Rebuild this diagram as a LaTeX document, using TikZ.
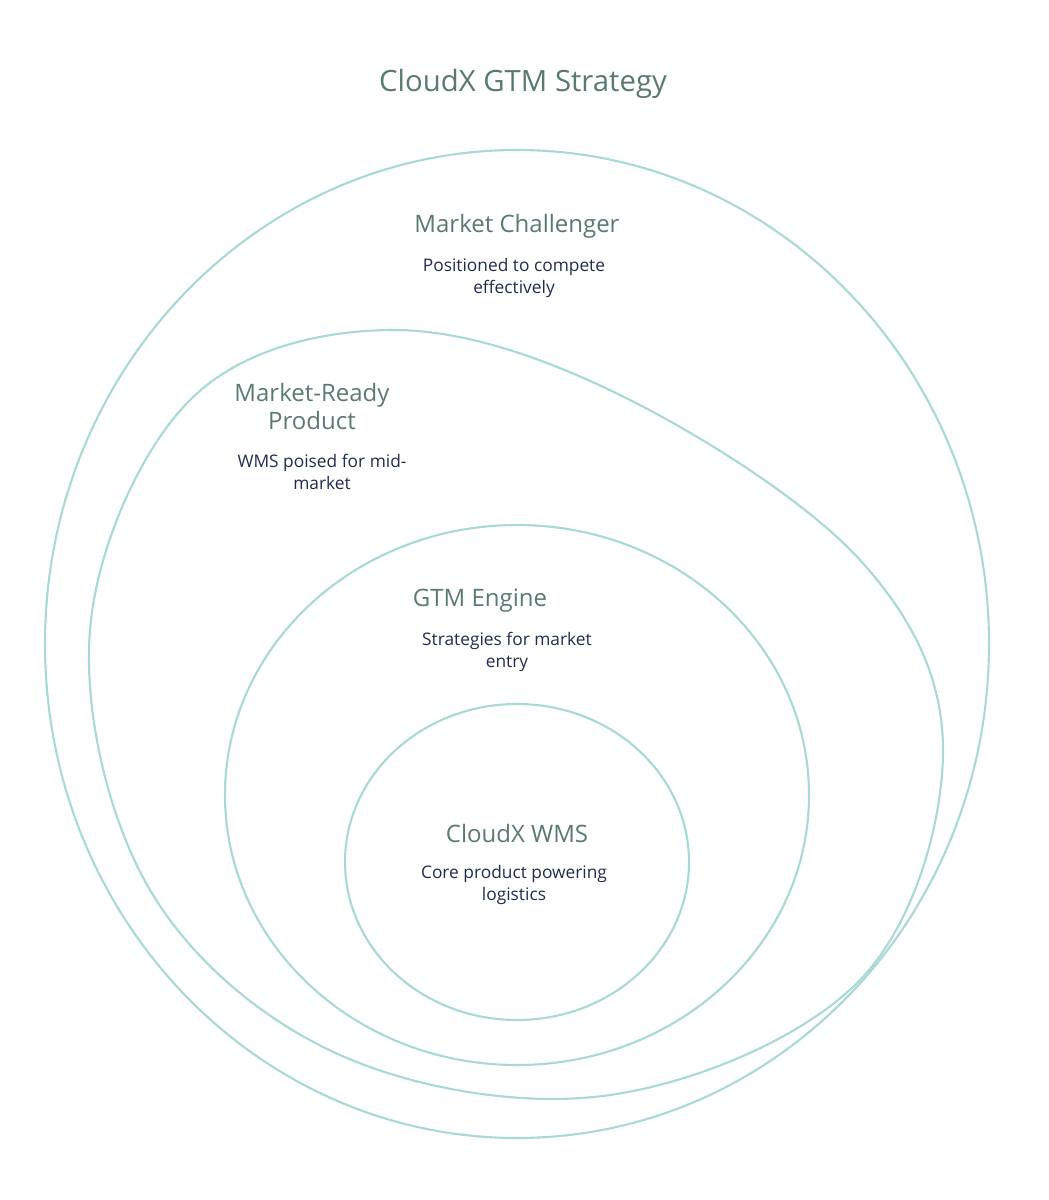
\documentclass[tikz,border=0pt]{standalone}
\usepackage{fontspec}
\setmainfont{Open Sans}
\usetikzlibrary{positioning}
\definecolor{ringline}{HTML}{A9D9D5}
\definecolor{headgreen}{HTML}{5A7A70}
\definecolor{bodynavy}{HTML}{1F2D4D}
\begin{document}
\begin{tikzpicture}[
    x=0.75pt, y=-0.75pt,
    ring/.style={draw=ringline, line width=1.6pt},
    head/.style={font=\fontsize{18}{21}\selectfont, text=headgreen, align=center},
    body/.style={font=\fontsize{13}{17}\selectfont, text=bodynavy, align=center}
]
\useasboundingbox (0,0) rectangle (1049,1200);

% Title
\node[font=\fontsize{22}{26}\selectfont, text=headgreen] (title) at (523,84) {CloudX GTM Strategy};

% Rings
\draw[ring] (517,644) ellipse [x radius=472, y radius=494];
\draw[ring] plot[smooth cycle, tension=0.6] coordinates {(90,630) (190,400) (390,330) (620,395) (860,560) (943,750) (860,980) (610,1095) (340,1055) (150,890)};
\draw[ring] (517,795) ellipse [x radius=292, y radius=270];
\draw[ring] (517,862) ellipse [x radius=172, y radius=158];

% Labels
\node[head] (chal) at (517,226) {Market Challenger};
\node[body] (chaltxt) at (514,278) {Positioned to compete\\effectively};
\node[head] (ready) at (312,406) {Market-Ready\\Product};
\node[body] (readytxt) at (322,472) {WMS poised for mid-\\market};
\node[head] (gtm) at (480,601) {GTM Engine};
\node[body] (gtmtxt) at (507,652) {Strategies for market\\entry};
\node[head] (wms) at (517,833) {CloudX WMS};
\node[body] (wmstxt) at (514,885) {Core product powering\\logistics};
\end{tikzpicture}
\end{document}
